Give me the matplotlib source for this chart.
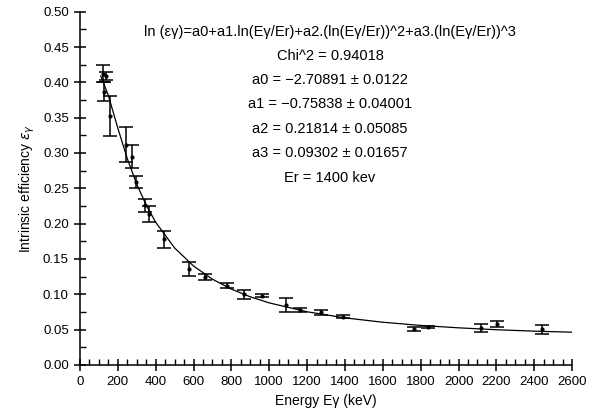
import matplotlib
matplotlib.use('Agg')
import matplotlib.pyplot as plt
from matplotlib.ticker import MultipleLocator, FormatStrFormatter

plt.rcParams['font.family'] = ['Liberation Sans', 'DejaVu Sans']
plt.rcParams['mathtext.fontset'] = 'dejavusans'

# measured points: energy (keV), efficiency, error
energy = [122, 136, 125, 159, 245, 276, 296, 344, 367, 444, 577, 661, 779,
          867, 964, 1086, 1160, 1275, 1390, 1767, 1840, 2116, 2201, 2442]
eff = [0.412, 0.409, 0.387, 0.352, 0.312, 0.295, 0.259, 0.226, 0.214, 0.178,
       0.136, 0.124, 0.112, 0.100, 0.098, 0.085, 0.078, 0.0744, 0.0685,
       0.0512, 0.0535, 0.052, 0.0583, 0.0503]
err = [0.012, 0.005, 0.013, 0.028, 0.025, 0.016, 0.008, 0.009, 0.011, 0.012,
       0.010, 0.004, 0.0035, 0.006, 0.002, 0.0095, 0.0025, 0.0035, 0.002,
       0.003, 0.001, 0.0057, 0.004, 0.0064]

# fitted curve
fit_e = [110, 150, 200, 250, 300, 350, 400, 500, 600, 700, 800, 900, 1000,
         1200, 1400, 1600, 1800, 2000, 2200, 2400, 2600]
fit_eff = [0.409, 0.3816, 0.3353, 0.2921, 0.2559, 0.2262, 0.2020, 0.1656,
           0.1400, 0.1213, 0.1073, 0.0964, 0.0878, 0.0752, 0.0666, 0.0604,
           0.0559, 0.0525, 0.0498, 0.0478, 0.0463]

fit_text = [
    'ln (εγ)=a0+a1.ln(Eγ/Er)+a2.(ln(Eγ/Er))^2+a3.(ln(Eγ/Er))^3',
    'Chi^2 = 0.94018',
    'a0 = −2.70891 ± 0.0122',
    'a1 = −0.75838 ± 0.04001',
    'a2 = 0.21814 ± 0.05085',
    'a3 = 0.09302 ± 0.01657',
    'Er = 1400 kev',
]
text_y = [0.942, 0.876, 0.808, 0.738, 0.668, 0.600, 0.530]

fig = plt.figure(figsize=(6.01, 4.18), dpi=100)
ax = fig.add_axes([0.133, 0.127, 0.819, 0.845])

ax.plot(fit_e, fit_eff, color='black', lw=0.9)
ax.errorbar(energy, eff, yerr=err, fmt='o', ms=2, color='black',
            ecolor='black', elinewidth=1.1, capsize=5, capthick=1.1)

ax.set_xlim(0, 2600)
ax.set_ylim(0, 0.5)
ax.xaxis.set_major_locator(MultipleLocator(200))
ax.xaxis.set_minor_locator(MultipleLocator(50))
ax.yaxis.set_major_locator(MultipleLocator(0.05))
ax.yaxis.set_minor_locator(MultipleLocator(0.025))
ax.yaxis.set_major_formatter(FormatStrFormatter('%.2f'))

for s in ['top', 'right']:
    ax.spines[s].set_visible(False)
for s in ['left', 'bottom']:
    ax.spines[s].set_linewidth(1.1)
ax.tick_params(which='major', direction='inout', length=8, width=1.1,
               labelsize=9.5, pad=4)
ax.tick_params(which='minor', direction='in', length=4, width=1.0)

ax.set_xlabel('Energy Eγ (keV)', fontsize=10)
ax.set_ylabel(r'Intrinsic efficiency $\varepsilon_{\gamma}$', fontsize=10)

for t, y in zip(fit_text, text_y):
    ax.text(0.508, y, t, transform=ax.transAxes, ha='center', va='center',
            fontsize=10.5)

fig.savefig('out.png', dpi=100)
